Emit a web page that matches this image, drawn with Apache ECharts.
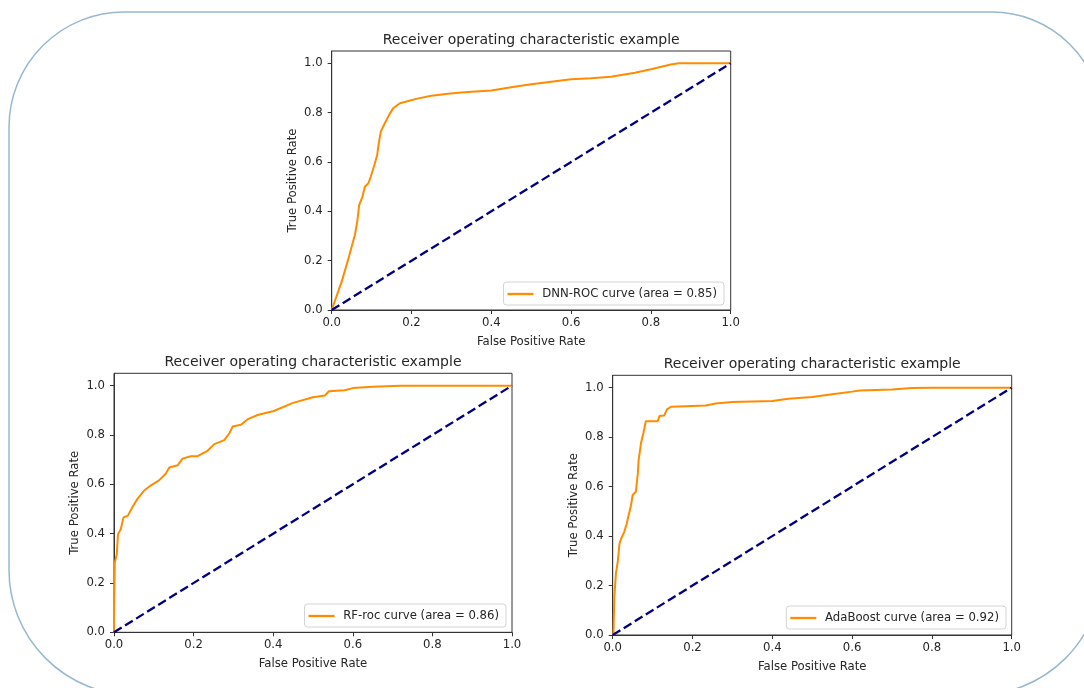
<!DOCTYPE html>
<html>
<head>
<meta charset="utf-8">
<title>ROC curves</title>
<script src="https://cdn.jsdelivr.net/npm/echarts@6/dist/echarts.min.js"></script>
<style>
  html, body { margin: 0; padding: 0; background: #fff; }
  #rocChart { width: 1084px; height: 688px; }
</style>
</head>
<body>
<div id="rocChart"></div>
<script>
// tick values
var xTicks = [0, 0.2, 0.4, 0.6, 0.8, 1.0];
var yTicks = [0, 0.2, 0.4, 0.6, 0.8, 1.0];
var chanceLine = [0, 1];

// DNN-ROC
var dnnFpr = [0, 0.025, 0.042, 0.058, 0.064, 0.069, 0.077, 0.083, 0.092, 0.098, 0.107, 0.114, 0.118, 0.123, 0.133, 0.144, 0.154, 0.171, 0.192, 0.217, 0.25, 0.292, 0.325, 0.36, 0.40, 0.45, 0.5, 0.55, 0.6, 0.65, 0.7, 0.76, 0.8, 0.85, 0.87, 0.95, 1.0];
var dnnTpr = [0, 0.115, 0.209, 0.304, 0.358, 0.426, 0.459, 0.5, 0.514, 0.541, 0.588, 0.628, 0.676, 0.723, 0.757, 0.791, 0.818, 0.838, 0.847, 0.858, 0.869, 0.877, 0.882, 0.886, 0.89, 0.903, 0.915, 0.925, 0.935, 0.94, 0.946, 0.962, 0.976, 0.995, 1.0, 1.0, 1.0];

// RF-roc
var rfFpr = [0, 0, 0.002, 0.007, 0.01, 0.017, 0.024, 0.035, 0.046, 0.059, 0.076, 0.092, 0.113, 0.13, 0.139, 0.16, 0.172, 0.193, 0.21, 0.235, 0.252, 0.277, 0.29, 0.298, 0.319, 0.336, 0.361, 0.378, 0.4, 0.45, 0.5, 0.53, 0.54, 0.58, 0.6, 0.65, 0.72, 1.0];
var rfTpr = [0, 0.071, 0.282, 0.316, 0.398, 0.418, 0.466, 0.473, 0.507, 0.541, 0.575, 0.595, 0.616, 0.643, 0.668, 0.677, 0.704, 0.714, 0.714, 0.736, 0.763, 0.779, 0.807, 0.834, 0.841, 0.864, 0.881, 0.888, 0.896, 0.93, 0.953, 0.96, 0.977, 0.981, 0.99, 0.995, 1.0, 1.0];

// AdaBoost
var adaFpr = [0, 0.002, 0.004, 0.008, 0.013, 0.017, 0.021, 0.029, 0.035, 0.042, 0.046, 0.05, 0.058, 0.063, 0.065, 0.071, 0.077, 0.083, 0.096, 0.113, 0.117, 0.129, 0.136, 0.146, 0.183, 0.233, 0.258, 0.3, 0.4, 0.44, 0.5, 0.55, 0.6, 0.62, 0.7, 0.75, 0.8, 1.0];
var adaTpr = [0, 0.01, 0.152, 0.247, 0.301, 0.369, 0.389, 0.417, 0.45, 0.498, 0.525, 0.566, 0.579, 0.654, 0.708, 0.776, 0.817, 0.864, 0.864, 0.864, 0.885, 0.887, 0.912, 0.923, 0.925, 0.928, 0.936, 0.942, 0.946, 0.955, 0.962, 0.973, 0.984, 0.989, 0.993, 0.999, 1.0, 1.0];

var curveNames = ["DNN-ROC curve (area = 0.85)", "RF-roc curve (area = 0.86)", "AdaBoost curve (area = 0.92)"];
var titleText = "Receiver operating characteristic example";

var font = "DejaVu Sans";
var textColor = "#262626";
var fs = 11.7;

function pairs(xs, ys) {
  return xs.map(function(x, i) { return [x, ys[i]]; });
}

// plot boxes in pixels
var boxes = [
  { left: 331.7, top: 51, width: 399, height: 259, legendRight: 360, legendTop: 282 },
  { left: 114, top: 373.3, width: 398, height: 259, legendRight: 578, legendTop: 604 },
  { left: 612.7, top: 375.3, width: 399, height: 259.7, legendRight: 78, legendTop: 606 }
];
var curves = [pairs(dnnFpr, dnnTpr), pairs(rfFpr, rfTpr), pairs(adaFpr, adaTpr)];

var option = {
  animation: false,
  backgroundColor: "#fff",
  textStyle: { fontFamily: font, color: textColor },
  graphic: [{
    type: "rect",
    z: -10,
    shape: { x: 9, y: 12, width: 1093, height: 683, r: [115, 110, 125, 125] },
    style: { fill: "none", stroke: "#97b8cf", lineWidth: 1.5 }
  }],
  title: [],
  legend: [],
  grid: [],
  xAxis: [],
  yAxis: [],
  series: []
};

boxes.forEach(function(b, i) {
  option.title.push({
    text: titleText,
    left: b.left + b.width / 2,
    top: b.top - 18,
    textAlign: "center",
    padding: 0,
    textStyle: { fontFamily: font, fontSize: 14, fontWeight: "normal", color: textColor }
  });
  option.grid.push({
    left: b.left, top: b.top, width: b.width, height: b.height,
    show: true, borderColor: "#333", borderWidth: 1, backgroundColor: "transparent"
  });
  option.xAxis.push({
    type: "value", gridIndex: i, min: 0, max: 1, interval: 0.2,
    name: "False Positive Rate", nameLocation: "middle", nameGap: 26,
    nameTextStyle: { fontFamily: font, fontSize: fs, color: textColor },
    axisLine: { show: true, lineStyle: { color: "#333", width: 1 } },
    axisTick: { show: true, inside: false, length: 4, lineStyle: { color: "#333" }, customValues: xTicks },
    axisLabel: { margin: 7, fontFamily: font, fontSize: fs, color: textColor, customValues: xTicks,
      formatter: function(v) { return v.toFixed(1); } },
    splitLine: { show: false }
  });
  option.yAxis.push({
    type: "value", gridIndex: i, min: 0, max: 1.05,
    name: "True Positive Rate", nameLocation: "middle", nameGap: 33,
    nameTextStyle: { fontFamily: font, fontSize: fs, color: textColor },
    axisLine: { show: true, lineStyle: { color: "#333", width: 1 } },
    axisTick: { show: true, inside: false, length: 4, lineStyle: { color: "#333" }, customValues: yTicks },
    axisLabel: { margin: 9, fontFamily: font, fontSize: fs, color: textColor, customValues: yTicks,
      formatter: function(v) { return v.toFixed(1); } },
    splitLine: { show: false }
  });
  option.legend.push({
    data: [{ name: curveNames[i], icon: "rect" }],
    right: b.legendRight,
    top: b.legendTop,
    orient: "vertical",
    padding: [5, 7, 4, 4],
    itemWidth: 26,
    itemHeight: 2.3,
    backgroundColor: "#fff",
    borderColor: "#d4d4d4",
    borderWidth: 1,
    borderRadius: 3,
    selectedMode: false,
    formatter: function(name) { return " " + name; },
    textStyle: { fontFamily: font, fontSize: fs, color: textColor, lineHeight: 14 }
  });
  option.series.push({
    name: curveNames[i],
    type: "line",
    xAxisIndex: i, yAxisIndex: i,
    symbol: "none",
    silent: true,
    data: curves[i],
    lineStyle: { color: "#ff8c00", width: 2 },
    itemStyle: { color: "#ff8c00" }
  });
  option.series.push({
    name: "chance" + i,
    type: "line",
    xAxisIndex: i, yAxisIndex: i,
    symbol: "none",
    silent: true,
    data: pairs(chanceLine, chanceLine),
    lineStyle: { color: "#000080", width: 2.3, type: [9, 4] }
  });
});

var myChart = echarts.init(document.getElementById("rocChart"));
myChart.setOption(option);
</script>
</body>
</html>
